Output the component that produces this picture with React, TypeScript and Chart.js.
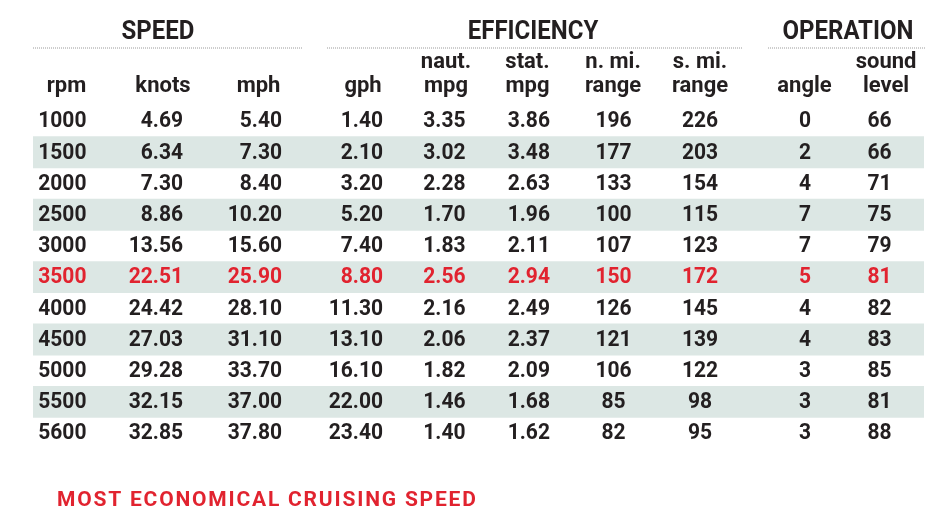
import { useEffect, useRef } from "react";
import { Chart, registerables } from "chart.js";

Chart.register(...registerables);

// ---- data ----
const rpm = [1000, 1500, 2000, 2500, 3000, 3500, 4000, 4500, 5000, 5500, 5600];
const knots = [4.69, 6.34, 7.3, 8.86, 13.56, 22.51, 24.42, 27.03, 29.28, 32.15, 32.85];
const mph = [5.4, 7.3, 8.4, 10.2, 15.6, 25.9, 28.1, 31.1, 33.7, 37.0, 37.8];
const gph = [1.4, 2.1, 3.2, 5.2, 7.4, 8.8, 11.3, 13.1, 16.1, 22.0, 23.4];
const nautMpg = [3.35, 3.02, 2.28, 1.7, 1.83, 2.56, 2.16, 2.06, 1.82, 1.46, 1.4];
const statMpg = [3.86, 3.48, 2.63, 1.96, 2.11, 2.94, 2.49, 2.37, 2.09, 1.68, 1.62];
const nmiRange = [196, 177, 133, 100, 107, 150, 126, 121, 106, 85, 82];
const smiRange = [226, 203, 154, 115, 123, 172, 145, 139, 122, 98, 95];
const angle = [0, 2, 4, 7, 7, 5, 4, 4, 3, 3, 3];
const soundLevel = [66, 66, 71, 75, 79, 81, 82, 83, 85, 81, 88];
const highlightRpm = 3500;

const groupTitles = ["SPEED", "EFFICIENCY", "OPERATION"];
const headerLine1 = ["", "", "", "", "naut.", "stat.", "n. mi.", "s. mi.", "", "sound"];
const headerLine2 = ["rpm", "knots", "mph", "gph", "mpg", "mpg", "range", "range", "angle", "level"];
const footerText = "MOST ECONOMICAL CRUISING SPEED";

// ---- layout (x in table-percent units of the x scale) ----
const columns = [
  { values: rpm, decimals: 0, anchor: 6.0, align: "right", head: 3.76 },
  { values: knots, decimals: 2, anchor: 16.84, align: "right", head: 14.59 },
  { values: mph, decimals: 2, anchor: 27.95, align: "right", head: 25.31 },
  { values: gph, decimals: 2, anchor: 39.28, align: "right", head: 37.04 },
  { values: nautMpg, decimals: 2, anchor: 48.54, align: "right", head: 46.35 },
  { values: statMpg, decimals: 2, anchor: 58.02, align: "right", head: 55.5 },
  { values: nmiRange, decimals: 0, anchor: 65.15, align: "center", head: 65.1 },
  { values: smiRange, decimals: 0, anchor: 74.86, align: "center", head: 74.86 },
  { values: angle, decimals: 0, anchor: 86.64, align: "center", head: 86.59 },
  { values: soundLevel, decimals: 0, anchor: 95.01, align: "center", head: 95.74 },
];
const groups = [
  { center: 14.03, from: 0, to: 30.19 },
  { center: 56.12, from: 33.0, to: 79.69 },
  { center: 91.47, from: 82.49, to: 100.22 },
];

const INK = "#231f20";
const RED = "#e1232f";
const STRIPE = "#dce7e4";
const FONT = "Roboto, 'Liberation Sans', sans-serif";

function condensedText(ctx: any, text: string, x: number, y: number, sx: number) {
  ctx.save();
  ctx.translate(x, y);
  ctx.scale(sx, 1);
  ctx.fillText(text, 0, 0);
  ctx.restore();
}

const tablePlugin = {
  id: "tableText",
  afterDatasetsDraw(chart: any) {
    const { ctx, chartArea, scales } = chart;
    const xs = scales.x;
    const ys = scales.y;
    const top = chartArea.top;
    ctx.save();
    ctx.textBaseline = "middle";

    // group titles + dotted rules
    ctx.fillStyle = INK;
    ctx.font = `bold 25px ${FONT}`;
    ctx.textAlign = "center";
    groups.forEach((g, i) => {
      condensedText(ctx, groupTitles[i], xs.getPixelForValue(g.center), top - 73, 0.96);
      ctx.beginPath();
      ctx.setLineDash([1, 1]);
      ctx.strokeStyle = "#9a9a9a";
      ctx.lineWidth = 1;
      ctx.moveTo(xs.getPixelForValue(g.from), top - 57.5);
      ctx.lineTo(xs.getPixelForValue(g.to), top - 57.5);
      ctx.stroke();
    });
    ctx.setLineDash([]);

    // column headers
    ctx.font = `bold 22px ${FONT}`;
    columns.forEach((c, i) => {
      const x = xs.getPixelForValue(c.head);
      if (headerLine1[i]) ctx.fillText(headerLine1[i], x, top - 43);
      ctx.fillText(headerLine2[i], x, top - 19);
    });

    // cells
    ctx.font = `bold 22px ${FONT}`;
    rpm.forEach((r, row) => {
      const y = ys.getPixelForValue(row);
      ctx.fillStyle = r === highlightRpm ? RED : INK;
      columns.forEach((c) => {
        ctx.textAlign = c.align;
        condensedText(ctx, c.values[row].toFixed(c.decimals), xs.getPixelForValue(c.anchor), y + 0.8, 0.955);
      });
    });

    // footer
    ctx.fillStyle = RED;
    ctx.textAlign = "left";
    ctx.font = `bold 21px ${FONT}`;
    (ctx as any).letterSpacing = "1.8px";
    ctx.fillText(footerText, xs.getPixelForValue(2.69), chartArea.bottom + 52.5);
    ctx.restore();
  },
};

export default function App() {
  const ref = useRef<HTMLCanvasElement | null>(null);
  useEffect(() => {
    document.body.style.margin = "0";
    const chart = new Chart(ref.current as HTMLCanvasElement, {
      type: "bar",
      data: {
        labels: rpm.map(String),
        datasets: [
          {
            label: "stripes",
            data: rpm.map((_, i) => (i % 2 === 1 ? [0, 100] : null)) as any,
            backgroundColor: STRIPE,
            borderWidth: 0,
            barPercentage: 1,
            categoryPercentage: 1,
          },
        ],
      },
      options: {
        indexAxis: "y",
        responsive: false,
        animation: false,
        layout: { padding: { left: 33, right: 12, top: 105.5, bottom: 79.3 } },
        plugins: { legend: { display: false }, tooltip: { enabled: false } },
        scales: {
          x: { type: "linear", min: 0, max: 100, display: false },
          y: { type: "category", display: false, offset: true },
        },
      },
      plugins: [tablePlugin],
    });
    return () => chart.destroy();
  }, []);
  return (
    <div style={{ width: 936, height: 528, background: "#fff" }}>
      <canvas ref={ref} width={936} height={528} />
    </div>
  );
}
